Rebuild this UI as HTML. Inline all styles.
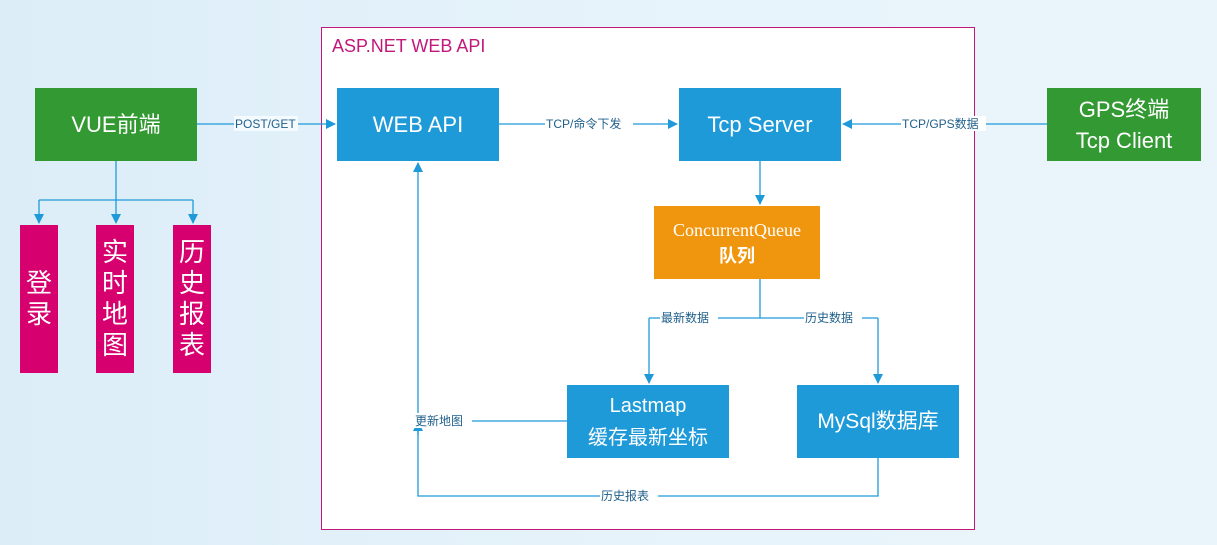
<!DOCTYPE html>
<html><head><meta charset="utf-8"><style>
body{margin:0;width:1217px;height:545px;overflow:hidden;background:linear-gradient(90deg,#dcedf8,#e8f4fb 60%,#eaf5fb);font-family:"Liberation Sans","Microsoft YaHei","Noto Sans CJK SC",sans-serif;position:relative}
.b{position:absolute;color:#fff;display:flex;align-items:center;justify-content:center;text-align:center;font-size:22px;line-height:30px}
.g{background:#339933}.bl{background:#1f9ad9}.m{background:#d6006e;font-size:26px;line-height:31px}
.frame{position:absolute;left:321px;top:27px;width:652px;height:501px;border:1px solid #c2187a;background:#fff}
svg{position:absolute;left:0;top:0}
text{font-family:"Liberation Sans","Noto Sans CJK SC",sans-serif;font-size:12px;fill:#1f5f8a}
</style></head><body>
<div class="frame"></div>
<div style="position:absolute;left:332px;top:36px;color:#c2187a;font-size:18px">ASP.NET WEB API</div>
<svg width="1217" height="545">
<defs><marker id="a" markerWidth="10" markerHeight="10" refX="9" refY="5" orient="auto" markerUnits="userSpaceOnUse"><path d="M0,0L10,5L0,10z" fill="#1f9ad9"/></marker></defs>
<g stroke="#1f9ad9" stroke-width="1.3" fill="none">
<path d="M197,124H335" marker-end="url(#a)"/>
<path d="M499,124H677" marker-end="url(#a)"/>
<path d="M1047,124H843" marker-end="url(#a)"/>
<path d="M116,161V223" marker-end="url(#a)"/>
<path d="M39,200H193"/>
<path d="M39,200V223" marker-end="url(#a)"/>
<path d="M193,200V223" marker-end="url(#a)"/>
<path d="M760,161V204" marker-end="url(#a)"/>
<path d="M760,279V318M649,318H878"/>
<path d="M649,318V383" marker-end="url(#a)"/>
<path d="M878,318V383" marker-end="url(#a)"/>
<path d="M567,421H418"/>
<path d="M418,435V422" marker-end="url(#a)"/>
<path d="M878,458V496H418V163" marker-end="url(#a)"/>
</g>
<g>
<rect x="234" y="116" width="64" height="15" fill="#f4fafd"/><text x="235" y="128">POST/GET</text>
<rect x="545" y="116" width="88" height="15" fill="#fff"/><text x="546" y="128">TCP/命令下发</text>
<rect x="901" y="116" width="85" height="15" fill="#fff"/><text x="902" y="128">TCP/GPS数据</text>
<rect x="660" y="310" width="58" height="15" fill="#fff"/><text x="661" y="322">最新数据</text>
<rect x="804" y="310" width="58" height="15" fill="#fff"/><text x="805" y="322">历史数据</text>
<rect x="414" y="413" width="58" height="15" fill="#fff"/><text x="415" y="425">更新地图</text>
<rect x="600" y="488" width="58" height="15" fill="#fff"/><text x="601" y="500">历史报表</text>
</g>
</svg>
<div class="b g" style="left:35px;top:88px;width:162px;height:73px">VUE前端</div>
<div class="b m" style="left:20px;top:225px;width:38px;height:148px">登<br>录</div>
<div class="b m" style="left:96px;top:225px;width:38px;height:148px">实<br>时<br>地<br>图</div>
<div class="b m" style="left:173px;top:225px;width:38px;height:148px">历<br>史<br>报<br>表</div>
<div class="b bl" style="left:337px;top:88px;width:162px;height:73px">WEB API</div>
<div class="b bl" style="left:679px;top:88px;width:162px;height:73px">Tcp Server</div>
<div class="b g" style="left:1047px;top:88px;width:154px;height:73px;line-height:31px">GPS终端<br>Tcp Client</div>
<div class="b" style="left:654px;top:206px;width:166px;height:73px;background:#f0960e;font-size:18px;line-height:26px"><div><span style="font-family:'Liberation Serif',serif">ConcurrentQueue</span><br><b>队列</b></div></div>
<div class="b bl" style="left:567px;top:385px;width:162px;height:73px;font-size:20px;line-height:32px">Lastmap<br>缓存最新坐标</div>
<div class="b bl" style="left:797px;top:385px;width:162px;height:73px;font-size:21px">MySql数据库</div>
</body></html>
